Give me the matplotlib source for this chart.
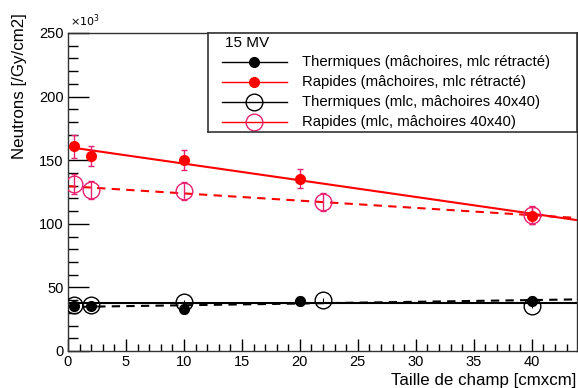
import matplotlib
matplotlib.use("Agg")
import matplotlib.pyplot as plt
import numpy as np
from matplotlib.ticker import MultipleLocator

plt.rcParams['font.family'] = ['Liberation Sans', 'DejaVu Sans']

# Data (values in units of 1e3 /Gy/cm2)
x_jaw = [0.5, 2, 10, 20, 40]
th_jaw = [35.6, 35.6, 32.8, 39.5, 39.5]
th_jaw_err = [3, 2.5, 3, 3, 3]
ra_jaw = [161, 153.5, 150, 135.5, 106.5]
ra_jaw_err = [9, 8, 8, 7.5, 6.5]

x_mlc = [0.5, 2, 10, 22, 40]
th_mlc = [36.2, 36, 38.8, 40.1, 35.4]
th_mlc_err = [1.5, 1.5, 1.5, 1.5, 1.5]
ra_mlc = [131.5, 126.5, 125.8, 117, 107]
ra_mlc_err = [8, 7, 7, 7, 7]

# Linear fits (intercept, slope)
fit_th_jaw = (37.5, 0.0)
fit_ra_jaw = (160.4, -1.31)
fit_th_mlc = (34.6, 0.136)
fit_ra_mlc = (129.6, -0.57)

labels = ["Thermiques (mâchoires, mlc rétracté)",
          "Rapides (mâchoires, mlc rétracté)",
          "Thermiques (mlc, mâchoires 40x40)",
          "Rapides (mlc, mâchoires 40x40)"]

RED = '#ff0000'
PINK = '#e8206e'

fig = plt.figure(figsize=(5.78, 3.88), dpi=100)
ax = fig.add_axes([68/578, 1 - 351/388, (577-68)/578, (351-33)/388])

xlim = (0, 43.9)
xf = np.array(xlim)

ax.plot(xf, fit_ra_jaw[0] + fit_ra_jaw[1]*xf, color=RED, lw=1.5, zorder=2)
ax.plot(xf, fit_ra_mlc[0] + fit_ra_mlc[1]*xf, color=RED, lw=1.5, ls=(0, (4, 3)), zorder=2)
ax.plot(xf, fit_th_jaw[0] + fit_th_jaw[1]*xf, color='black', lw=1.5, zorder=2)
ax.plot(xf, fit_th_mlc[0] + fit_th_mlc[1]*xf, color='black', lw=1.5, ls=(0, (4, 3)), zorder=2)

ax.errorbar(x_jaw, th_jaw, yerr=th_jaw_err, fmt='o', color='black', ms=7,
            elinewidth=1, capsize=2, zorder=4)
ax.errorbar(x_jaw, ra_jaw, yerr=ra_jaw_err, fmt='o', color=RED, ecolor=PINK, ms=7,
            elinewidth=1, capsize=2, zorder=4)
ax.errorbar(x_mlc, th_mlc, yerr=th_mlc_err, fmt='o', mfc='none', mec='black', ecolor='black',
            ms=12, mew=1, elinewidth=0.8, capsize=0, zorder=3)
ax.errorbar(x_mlc, ra_mlc, yerr=ra_mlc_err, fmt='o', mfc='none', mec=PINK, ecolor=PINK,
            ms=12, mew=1, elinewidth=1, capsize=2, zorder=3)

ax.set_xlim(*xlim)
ax.set_ylim(0, 250)
ax.xaxis.set_major_locator(MultipleLocator(5))
ax.xaxis.set_minor_locator(MultipleLocator(1))
ax.yaxis.set_major_locator(MultipleLocator(50))
ax.yaxis.set_minor_locator(MultipleLocator(10))
ax.tick_params(which='major', axis='y', direction='in', length=15, width=1, labelsize=10.5, pad=3)
ax.tick_params(which='minor', axis='y', direction='in', length=7, width=1)
ax.tick_params(which='major', axis='x', direction='in', length=9, width=1, labelsize=10.5, pad=3)
ax.tick_params(which='minor', axis='x', direction='in', length=5, width=1)
ax.tick_params(top=False, right=False, which='both')
for s in ax.spines.values():
    s.set_color('#333333')
    s.set_linewidth(1)

fig.text(20/578, 1 - 13/388, "Neutrons [/Gy/cm2]", fontsize=12.2, rotation=90,
         ha='center', va='top')
fig.text(576/578, 1 - 381/388, "Taille de champ [cmxcm]", fontsize=12.2, ha='right', va='center')
fig.text(70/578, 1 - 21/388, r"$\times10^{3}$", fontsize=8, ha='left', va='center')

# Legend box
lax = fig.add_axes([208/578, 1 - 132/388, (577-208)/578, (132-33)/388])
lax.set_xlim(208, 577)
lax.set_ylim(132, 33)
lax.set_xticks([])
lax.set_yticks([])
for s in lax.spines.values():
    s.set_color('#333333')
    s.set_linewidth(1.2)
lax.text(225, 43, "15 MV", fontsize=11, va='center', ha='left')
rows = [62, 82, 102, 122]
styles = [dict(color='black', mfc='black', mec='black', ms=7),
          dict(color=RED, mfc=RED, mec=RED, ms=7),
          dict(color='black', mfc='none', mec='black', ms=12),
          dict(color=RED, mfc='none', mec=PINK, ms=12)]
for yv, lab, st in zip(rows, labels, styles):
    lax.plot([222, 287], [yv, yv], color=st['color'], lw=1)
    lax.plot([254], [yv], 'o', mfc=st['mfc'], mec=st['mec'], ms=st['ms'], mew=1)
    lax.text(302, yv, lab, fontsize=10.7, va='center', ha='left')

fig.savefig("out.png", dpi=100)
